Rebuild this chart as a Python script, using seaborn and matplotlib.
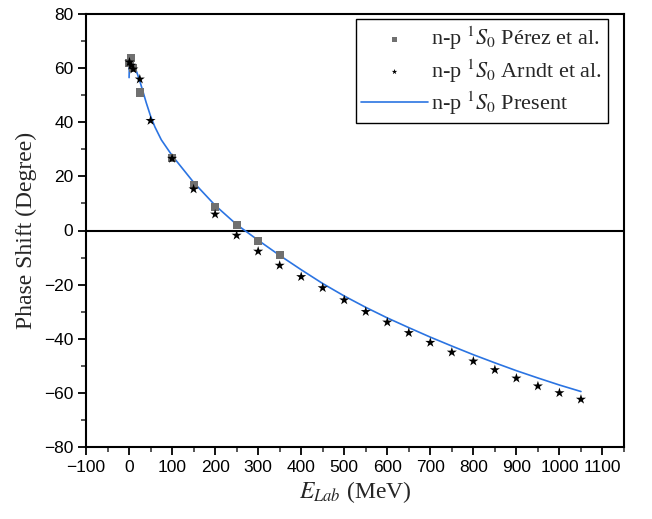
import numpy as np
import pandas as pd
import matplotlib
matplotlib.use("Agg")
import matplotlib.pyplot as plt
import seaborn as sns
from matplotlib.ticker import MultipleLocator

# n-p 1S0 phase shifts (degrees) versus laboratory energy (MeV)
perez_e = [1, 5, 10, 25, 100, 150, 200, 250, 300, 350]
perez_delta = [62.0, 63.8, 60.0, 51.0, 26.8, 16.7, 8.7, 1.9, -3.8, -9.2]

arndt_e = [1, 5, 10, 25, 50, 100, 150, 200, 250, 300, 350, 400, 450, 500,
           550, 600, 650, 700, 750, 800, 850, 900, 950, 1000, 1050]
arndt_delta = [62.2, 61.0, 59.6, 55.9, 40.6, 26.6, 15.3, 6.0, -1.8, -7.7,
               -12.9, -17.1, -21.2, -25.7, -30.0, -33.9, -37.8, -41.4, -45.0,
               -48.3, -51.5, -54.6, -57.5, -60.0, -62.4]

present_e = [0.1, 0.5, 1, 2, 3, 5, 7, 10, 15, 20, 25, 30, 40, 50, 60, 75,
             100, 150, 200, 250, 300, 350, 400, 450, 500, 550, 600, 650, 700,
             750, 800, 850, 900, 950, 1000, 1050]
present_delta = [56.5, 59.2, 61.0, 62.5, 63.0, 63.2, 62.8, 61.6, 59.8, 57.6,
                 55.2, 52.6, 47.2, 42.3, 38.3, 33.5, 27.7, 17.8, 9.3, 2.2,
                 -3.6, -9.2, -14.5, -19.6, -24.2, -28.4, -32.3, -35.9, -39.4,
                 -42.7, -45.9, -48.9, -51.8, -54.5, -57.1, -59.5]

x_ticks = list(range(-100, 1101, 100))
y_ticks = list(range(-80, 81, 20))

perez = pd.DataFrame({"E": perez_e, "delta": perez_delta})
arndt = pd.DataFrame({"E": arndt_e, "delta": arndt_delta})
present = pd.DataFrame({"E": present_e, "delta": present_delta})

sns.set_theme(style="ticks")
plt.rcParams["font.family"] = ["Liberation Sans", "DejaVu Sans"]
plt.rcParams["mathtext.fontset"] = "stix"

fig = plt.figure(figsize=(6.52, 5.19), dpi=100)
ax = fig.add_axes([86 / 652, 1 - 447 / 519, 538 / 652, 433 / 519])

ax.axhline(0, color="black", lw=1.5, zorder=1)

sns.scatterplot(data=perez, x="E", y="delta", ax=ax, marker="s", s=34,
                color="#707070", edgecolor="none", zorder=3,
                label=r"n-p $^{1}S_{0}$ Pérez et al.")
sns.scatterplot(data=arndt, x="E", y="delta", ax=ax, marker="*", s=58,
                color="black", edgecolor="none", zorder=4,
                label=r"n-p $^{1}S_{0}$ Arndt et al.")
sns.lineplot(data=present, x="E", y="delta", ax=ax, color="#2b74e2", lw=1.2,
             zorder=2, label=r"n-p $^{1}S_{0}$ Present")

ax.set_xlim(-100, 1150)
ax.set_ylim(-80, 80)
ax.set_xticks(x_ticks)
ax.set_yticks(y_ticks)
ax.xaxis.set_minor_locator(MultipleLocator(50))
ax.yaxis.set_minor_locator(MultipleLocator(10))
ax.tick_params(which="major", direction="out", length=6, width=1.3,
               labelsize=12.5, colors="black", pad=3)
ax.tick_params(which="minor", direction="out", length=3.5, width=1.1)
for side in ["left", "right", "top", "bottom"]:
    ax.spines[side].set_visible(True)
    ax.spines[side].set_linewidth(1.5)
    ax.spines[side].set_color("black")

ax.set_xlabel(r"$E_{Lab}$ (MeV)", family="Liberation Serif", fontsize=17,
              labelpad=3)
ax.set_ylabel("Phase Shift (Degree)", family="Liberation Serif", fontsize=17,
              labelpad=5)

leg = ax.legend(loc="upper right", bbox_to_anchor=(0.970, 0.988),
                borderaxespad=0, frameon=True, fancybox=False,
                prop={"family": "Liberation Serif", "size": 16},
                handlelength=3.0, handletextpad=0.15, labelspacing=0.22,
                borderpad=0.25, markerscale=0.55)
leg.get_frame().set_edgecolor("black")
leg.get_frame().set_linewidth(1.0)
leg.get_frame().set_alpha(1)

fig.savefig("out.png", dpi=100)
